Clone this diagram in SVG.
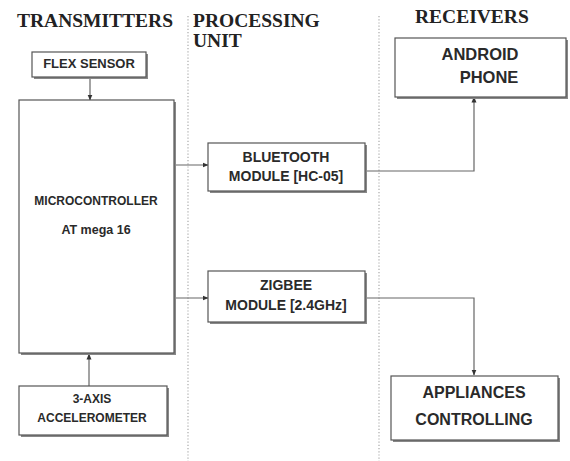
<svg xmlns="http://www.w3.org/2000/svg" width="570" height="461" viewBox="0 0 570 461">
<defs>
<style>
.hdr{font-family:"Liberation Serif","Times New Roman",serif;font-weight:bold;font-size:19.5px;fill:#222}
.lbl{font-family:"Liberation Sans",Arial,sans-serif;font-weight:bold;fill:#2a2a2a;text-anchor:middle}
.box{fill:#fff;stroke:#555;stroke-width:1.2}
.sh{fill:#888}
.div{stroke:#aaa;stroke-width:1.2;stroke-dasharray:1.2,2;fill:none}
.con{stroke:#666;stroke-width:1.2;fill:none}
</style>
<marker id="ah" viewBox="0 0 6 6" refX="5.5" refY="3" markerWidth="6" markerHeight="6" orient="auto" markerUnits="userSpaceOnUse">
<path d="M0,0.5 L6,3 L0,5.5 Z" fill="#333"/>
</marker>
</defs>
<rect width="570" height="461" fill="#fff"/>
<g id="headers">
<text class="hdr" x="17" y="27">TRANSMITTERS</text>
<text class="hdr" x="193" y="27">PROCESSING</text>
<text class="hdr" x="193" y="47">UNIT</text>
<text class="hdr" x="415" y="23">RECEIVERS</text>
</g>
<g id="dividers">
<line class="div" x1="188" y1="16" x2="188" y2="461"/>
<line class="div" x1="379" y1="16" x2="379" y2="461"/>
</g>
<g id="connectors">
<line class="con" x1="90" y1="78" x2="90" y2="100" marker-end="url(#ah)"/>
<line class="con" x1="174" y1="165" x2="208" y2="165" marker-end="url(#ah)"/>
<line class="con" x1="174" y1="298" x2="208" y2="298" marker-end="url(#ah)"/>
<polyline class="con" points="366,171 474,171 474,97" marker-end="url(#ah)"/>
<polyline class="con" points="366,298 474,298 474,375" marker-end="url(#ah)"/>
<line class="con" x1="89" y1="386" x2="89" y2="354" marker-end="url(#ah)"/>
</g>
<g id="flex">
<rect class="sh" x="34" y="54" width="114" height="25"/>
<rect class="box" x="32" y="52" width="114" height="25"/>
<text class="lbl" x="89" y="68" font-size="13">FLEX SENSOR</text>
</g>
<g id="micro">
<rect class="sh" x="21" y="102" width="155" height="253"/>
<rect class="box" x="19" y="100" width="155" height="253"/>
<text class="lbl" x="96" y="205" font-size="12">MICROCONTROLLER</text>
<text class="lbl" x="96" y="234" font-size="12.5">AT mega 16</text>
</g>
<g id="bluetooth">
<rect class="sh" x="210" y="145" width="157" height="48"/>
<rect class="box" x="208" y="143" width="157" height="48"/>
<text class="lbl" x="286" y="162" font-size="14">BLUETOOTH</text>
<text class="lbl" x="286" y="181" font-size="14">MODULE [HC-05]</text>
</g>
<g id="zigbee">
<rect class="sh" x="210" y="273" width="157" height="51"/>
<rect class="box" x="208" y="271" width="157" height="51"/>
<text class="lbl" x="286" y="290" font-size="14">ZIGBEE</text>
<text class="lbl" x="286" y="310" font-size="14">MODULE [2.4GHz]</text>
</g>
<g id="android">
<rect class="sh" x="397" y="40" width="171" height="59"/>
<rect class="box" x="395" y="38" width="171" height="59"/>
<text class="lbl" x="480" y="60" font-size="16.5">ANDROID</text>
<text class="lbl" x="489" y="83" font-size="16.5">PHONE</text>
</g>
<g id="appliances">
<rect class="sh" x="393" y="378" width="167" height="64"/>
<rect class="box" x="391" y="376" width="167" height="64"/>
<text class="lbl" x="474" y="398" font-size="16">APPLIANCES</text>
<text class="lbl" x="474" y="425" font-size="16">CONTROLLING</text>
</g>
<g id="accel">
<rect class="sh" x="21" y="388" width="148" height="49"/>
<rect class="box" x="19" y="386" width="148" height="49"/>
<text class="lbl" x="92" y="403" font-size="12">3-AXIS</text>
<text class="lbl" x="92" y="422" font-size="12">ACCELEROMETER</text>
</g>
</svg>
